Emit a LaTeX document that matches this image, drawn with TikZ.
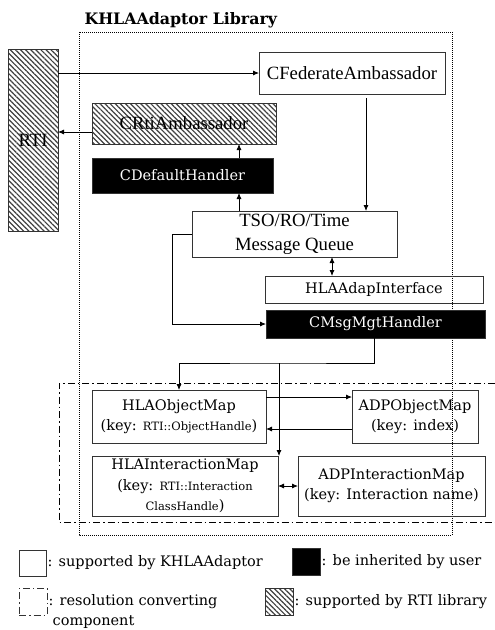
\documentclass[tikz,border=0pt]{standalone}
\usepackage{fontspec}
\setmainfont{Liberation Serif}
\newfontfamily\schfont{DejaVu Serif}
\usetikzlibrary{patterns.meta, arrows.meta}

\begin{document}
\begin{tikzpicture}[x=1pt, y=-1pt,
        box/.style={draw=black!80, line width=0.8pt, inner sep=0pt, outer sep=0pt, align=center},
        blackbox/.style={box, fill=black, text=white, font=\schfont\fontsize{14.5}{18}\selectfont},
        hatchbox/.style={box, pattern={Lines[angle=-45, distance=3.6pt, line width=1.2pt]}, pattern color=black!75},
        times/.style={font=\fontsize{18.7}{24}\selectfont},
        schl/.style={font=\schfont\fontsize{14.5}{20.5}\selectfont},
        legend/.style={font=\schfont\fontsize{14.5}{20}\selectfont, inner sep=1.5pt, anchor=west, align=left},
        conn/.style={line width=0.8pt, -{Latex[length=6pt, width=5pt]}},
        both/.style={line width=0.8pt, {Latex[length=6pt, width=5pt]}-{Latex[length=6pt, width=5pt]}},
        dashdot/.style={dash pattern=on 7pt off 3pt on 1.5pt off 3pt}]
        \useasboundingbox (0, 0) rectangle (495, 630);

        % frames
        \node[anchor=base west, font=\schfont\bfseries\fontsize{15.8}{18}\selectfont] (title) at (81, 24) {KHLAAdaptor Library};
        \draw[line width=0.9pt, dash pattern=on 1pt off 1pt] (79, 32) rectangle (452, 535);
        \draw[line width=0.8pt, dashdot] (495, 383) -- (59, 383) -- (59, 522) -- (495, 522);

        % boxes
        \node[hatchbox, times, minimum width=50, minimum height=182] (rti) at (33, 140) {RTI};
        \node[box, times, minimum width=186, minimum height=42] (cfed) at (352, 73) {CFederateAmbassador};
        \node[hatchbox, times, minimum width=184, minimum height=41] (crti) at (184, 123.5) {CRtiAmbassador};
        \node[blackbox, minimum width=181, minimum height=35] (cdef) at (182.5, 175.5) {CDefaultHandler};
        \node[box, times, minimum width=205, minimum height=46] (tso) at (294.5, 234) {TSO/RO/Time\\Message Queue};
        \node[box, schl, minimum width=218, minimum height=27] (hlaadap) at (374, 289.5) {HLAAdapInterface};
        \node[blackbox, minimum width=219, minimum height=28] (cmsg) at (375.5, 324) {CMsgMgtHandler};
        \node[box, schl, minimum width=174, minimum height=53] (hlaobj) at (179, 416.5) {HLAObjectMap\\(key: {\fontsize{11.5}{20.5}\selectfont RTI::ObjectHandle})};
        \node[box, schl, minimum width=126, minimum height=53] (adpobj) at (415, 416.5) {ADPObjectMap\\(key: index)};
        \node[box, schl, minimum width=186, minimum height=60] (hlaint) at (185, 486) {HLAInteractionMap\\(key: {\fontsize{11.5}{20.5}\selectfont RTI::Interaction}\\{\fontsize{11.5}{20.5}\selectfont ClassHandle})};
        \node[box, schl, minimum width=187, minimum height=60] (adpint) at (391.5, 486) {ADPInteractionMap\\(key: Interaction name)};

        % connectors
        \draw[conn] (rti.east |- cfed.west) -- (cfed.west);
        \coordinate (crtiout) at ([yshift=-8.5]crti.west);
        \draw[conn] (crtiout) -- (rti.east |- crtiout);
        \draw[conn] ([xshift=56.5]cdef.north) -- ([xshift=56.5]cdef.north |- crti.south);
        \draw[conn] ([xshift=-55.5]tso.north) -- ([xshift=-55.5]tso.north |- cdef.south);
        \draw[conn, shorten <=4pt] ([xshift=14]cfed.south) -- ([xshift=14]cfed.south |- tso.north);
        \draw[both] ([xshift=37.5]tso.south) -- ([xshift=37.5]tso.south |- hlaadap.north);
        \draw[conn] (tso.west) -- ++(-20, 0) |- (cmsg.west);
        \coordinate (split) at (279, 363);
        \draw[conn] ([xshift=-1.5]cmsg.south) |- (split) -| (hlaobj.north);
        \draw[conn] (split) -- (split |- hlaint.north);
        \draw[conn] ([yshift=19.5]hlaobj.east) -- ([yshift=19.5]adpobj.west);
        \draw[conn] ([yshift=-12.5]adpobj.west) -- ([yshift=-12.5]hlaobj.east);
        \draw[both] (hlaint.east) -- (adpint.west);

        % legend
        \node[box, minimum width=27, minimum height=26] (keywhite) at (32.5, 563) {};
        \node[legend] (keywhitetext) at (keywhite.east) {: supported by KHLAAdaptor};
        \node[box, fill=black, minimum width=28, minimum height=27] (keyblack) at (306, 561.5) {};
        \node[legend] (keyblacktext) at (keyblack.east) {: be inherited by user};
        \node[box, dashdot, minimum width=28, minimum height=27] (keyconv) at (33, 601.5) {};
        \node[legend, anchor=north west] (keyconvtext) at ([yshift=9]keyconv.east) {: resolution converting\\\hspace{4pt}component};
        \node[hatchbox, minimum width=28, minimum height=27] (keyrti) at (279, 601.5) {};
        \node[legend] (keyrtitext) at (keyrti.east) {: supported by RTI library};
    \end{tikzpicture}
\end{document}
